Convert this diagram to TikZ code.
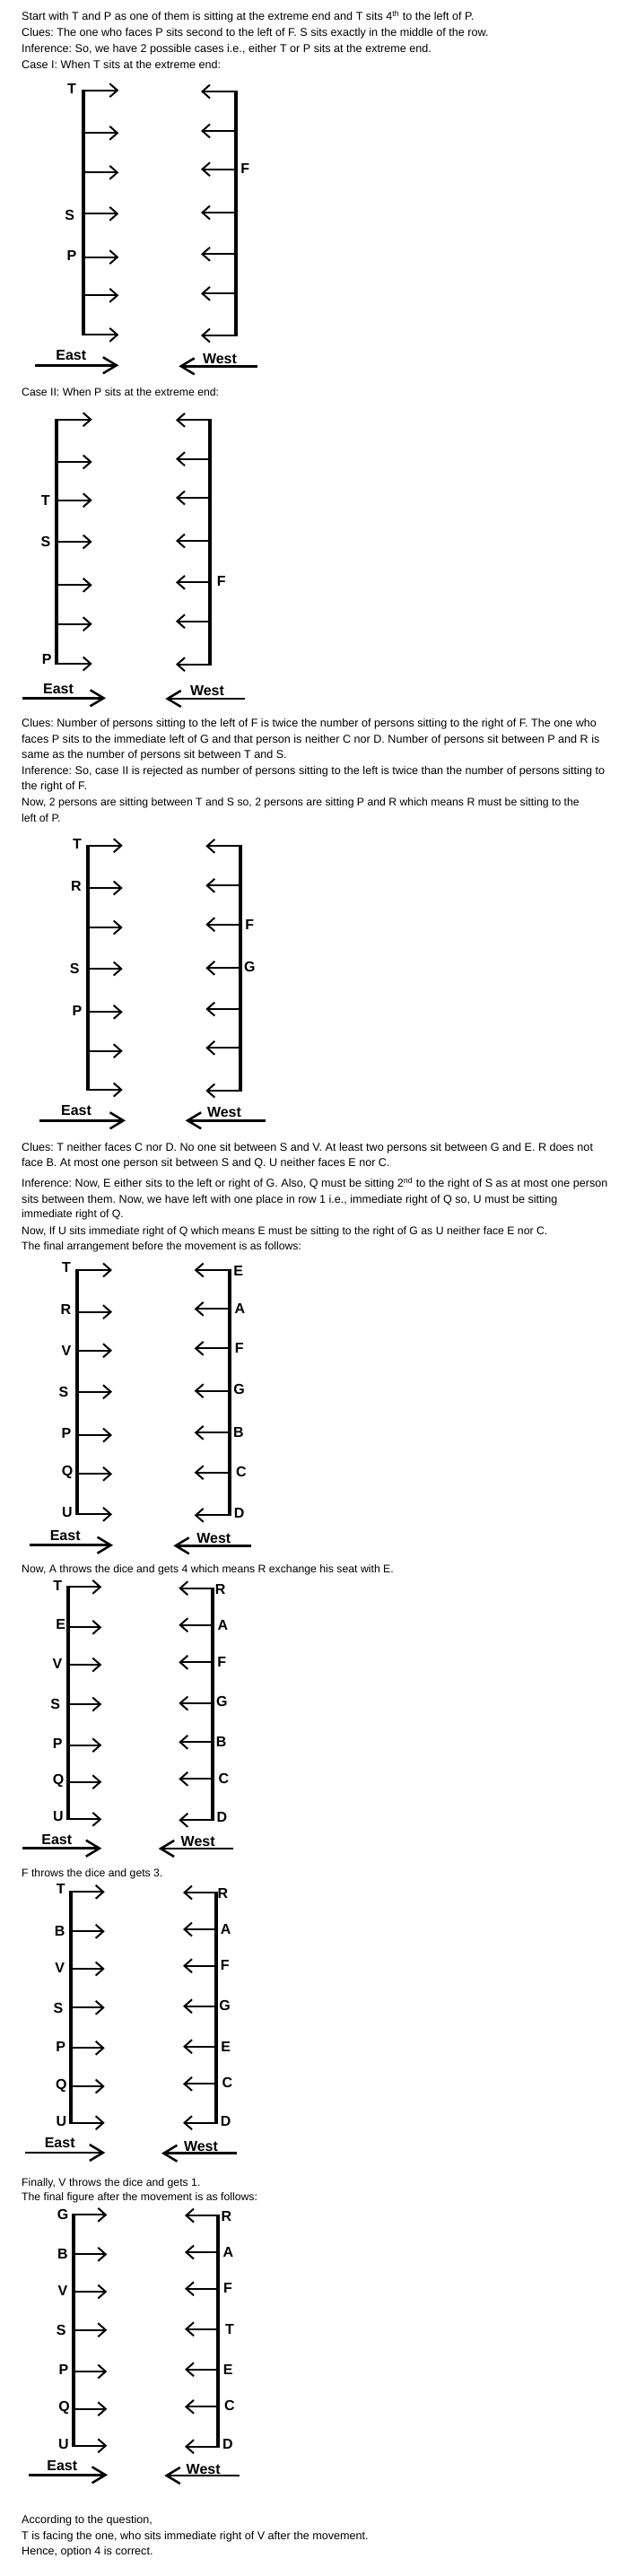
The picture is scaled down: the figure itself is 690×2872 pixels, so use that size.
\documentclass[tikz,border=0pt]{standalone}
\usepackage{fontspec}
\setmainfont{Liberation Sans}
\usetikzlibrary{arrows.meta}
\newcommand\txtA{\fontsize{12.6pt}{15pt}\selectfont\frenchspacing}
\newcommand\txtB{\fontsize{12.25pt}{15pt}\selectfont\frenchspacing}
\newcommand\lblfont{\fontsize{16pt}{18pt}\selectfont\bfseries}
\tikzset{
  seatstem/.style={line width=2pt, -{Straight Barb[length=8.5pt,width=15pt]}},
  seatbar/.style={line width=4.3pt, shorten <=-1pt, shorten >=-1pt},
  lbl/.style={font=\lblfont, inner sep=0pt},
  dirarr/.style={line width=2.5pt, -{Straight Barb[length=15pt,width=18pt]}},
  txta/.style={anchor=base west, inner sep=0pt, font=\txtA},
  txtb/.style={anchor=base west, inner sep=0pt, font=\txtB},
}
% one side of a row of seats: prefix, bar x, tip x, list of y
\newcommand\seatside[4]{%
  \foreach \yy [count=\i] in {#4} {
    \coordinate (#1b\i) at (#2,\yy);
    \coordinate (#1t\i) at (#3,\yy);
    \draw[seatstem] (#1b\i) -- (#1t\i);
  }
  \draw[seatbar] (#1b1) -- (#1b7);
}
\newcommand\seatlabels[2]{%
  \foreach \lx/\ly/\lab [count=\i] in {#2} {
    \node[lbl] (#1\i) at (\lx,\ly) {\lab};
  }
}
\newcommand\eastdir[6]{%
  \node[lbl] (#1en) at (#2,#3) {East};
  \coordinate (#1ea) at (#4,#6);
  \coordinate (#1eb) at (#5,#6);
  \draw[dirarr] (#1ea) -- (#1eb);
}
\newcommand\westdir[6]{%
  \node[lbl] (#1wn) at (#2,#3) {West};
  \coordinate (#1wa) at (#4,#6);
  \coordinate (#1wb) at (#5,#6);
  \draw[dirarr] (#1wa) -- (#1wb);
}
\begin{document}
\begin{tikzpicture}[x=1pt,y=-1pt]
\fill[white] (0,0) rectangle (690,2872);
\useasboundingbox (0,0) rectangle (690,2872);

% ---------- texts ----------
\node[txta] (t1) at (24,22.7) {Start with T and P as one of them is sitting at the extreme end and T sits 4\textsuperscript{th} to the left of P.};
\node[txta] (t2) at (24,40.4) {Clues: The one who faces P sits second to the left of F. S sits exactly in the middle of the row.};
\node[txta] (t3) at (24,58.4) {Inference: So, we have 2 possible cases i.e., either T or P sits at the extreme end.};
\node[txta] (t4) at (24,76.4) {Case I: When T sits at the extreme end:};
\node[txtb] (t5) at (24,441.7) {Case II: When P sits at the extreme end:};
\node[txta] (t6) at (24,810.4) {Clues: Number of persons sitting to the left of F is twice the number of persons sitting to the right of F. The one who};
\node[txta] (t7) at (24,828.4) {faces P sits to the immediate left of G and that person is neither C nor D. Number of persons sit between P and R is};
\node[txta] (t8) at (24,845.4) {same as the number of persons sit between T and S.};
\node[txta] (t9) at (24,863.4) {Inference: So, case II is rejected as number of persons sitting to the left is twice than the number of persons sitting to};
\node[txta] (t10) at (24,880.4) {the right of F.};
\node[txtb] (t11) at (24,898.4) {Now, 2 persons are sitting between T and S so, 2 persons are sitting P and R which means R must be sitting to the};
\node[txtb] (t12) at (24,916.1) {left of P.};
\node[txta] (t13) at (24,1283.4) {Clues: T neither faces C nor D. No one sit between S and V. At least two persons sit between G and E. R does not};
\node[txta] (t14) at (24,1300.1) {face B. At most one person sit between S and Q. U neither faces E nor C.};
\node[txta] (t15) at (24,1323.4) {Inference: Now, E either sits to the left or right of G. Also, Q must be sitting 2\textsuperscript{nd} to the right of S as at most one person};
\node[txta] (t16) at (24,1341.1) {sits between them. Now, we have left with one place in row 1 i.e., immediate right of Q so, U must be sitting};
\node[txtb] (t17) at (24,1357.7) {immediate right of Q.};
\node[txtb] (t18) at (24,1376.1) {Now, If U sits immediate right of Q which means E must be sitting to the right of G as U neither face E nor C.};
\node[txtb] (t19) at (24,1393.4) {The final arrangement before the movement is as follows:};
\node[txtb] (t20) at (24,1753.7) {Now, A throws the dice and gets 4 which means R exchange his seat with E.};
\node[txtb] (t21) at (24,2092.7) {F throws the dice and gets 3.};
\node[txtb] (t22) at (24,2437.1) {Finally, V throws the dice and gets 1.};
\node[txtb] (t23) at (24,2453.7) {The final figure after the movement is as follows:};
\node[txta] (t24) at (24,2813.4) {According to the question,};
\node[txta] (t25) at (24,2831.1) {T is facing the one, who sits immediate right of V after the movement.};
\node[txta] (t26) at (24,2848.7) {Hence, option 4 is correct.};

% ---------- diagram 1 ----------
\seatside{aL}{92.7}{132.3}{100.7,148.3,192.3,238.3,286.7,329.3,373.3}
\seatside{aR}{262.7}{224}{102,146,188.7,237,283.3,327.3,374}
\seatlabels{aLl}{80/99.3/T, 77.7/240/S, 80/285/P}
\seatlabels{aRl}{273.3/188.3/F}
\eastdir{a}{79.3}{396}{39.3}{132.3}{407.3}
\westdir{a}{245}{400}{286.7}{199.3}{408.3}

% ---------- diagram 2 ----------
\seatside{bL}{63.3}{102.7}{467.7,515,557.7,604,652.3,695.7,740}
\seatside{bR}{234.3}{196}{468.3,511.7,555,603,649.3,692.7,740.7}
\seatlabels{bLl}{50.7/557.7/T, 51/604/S, 52.3/735/P}
\seatlabels{bRl}{246.7/648.3/F}
\eastdir{b}{65}{767.7}{25}{118}{778.3}
\westdir{b}{231}{770}{272.7}{184.3}{779}

% ---------- diagram 3 ----------
\seatside{cL}{98}{136.7}{942.7,990,1034,1080,1128.3,1171.7,1215}
\seatside{cR}{267.7}{229.3}{943.3,987.3,1030.7,1079.3,1125,1168.3,1216}
\seatlabels{cLl}{86/941/T, 85/988.3/R, 83.3/1080/S, 86/1126.7/P}
\seatlabels{cRl}{278.3/1030.7/F, 278.3/1077.7/G}
\eastdir{c}{85}{1238.3}{44.4}{140}{1249.3}
\westdir{c}{250}{1240}{295.6}{206.7}{1249.3}

% ---------- diagram 4 ----------
\seatside{dL}{86}{125}{1416,1462.7,1505.7,1551.7,1600,1643.3,1688.3}
\seatside{dR}{256}{216.7}{1416,1459.3,1503.3,1550.7,1597.3,1641.7,1689.3}
\seatlabels{dLl}{74/1412.7/T, 73.3/1460/R, 74/1505.7/V, 71/1552.3/S, 74/1598.3/P, 75/1641.7/Q, 75/1685.7/U}
\seatlabels{dRl}{265.7/1417.3/E, 267.3/1459.3/A, 266.7/1502.7/F, 266.7/1549.3/G, 266/1596.7/B, 269/1640.7/C, 266.7/1686.7/D}
\eastdir{d}{72.7}{1711.7}{33.3}{126}{1722.7}
\westdir{d}{238.3}{1715}{280}{193.3}{1723.3}

% ---------- diagram 5 ----------
\seatside{eL}{76}{113.3}{1769.3,1814.3,1856,1900,1945.7,1986.7,2028.3}
\seatside{eR}{237.3}{199.3}{1770.7,1811.7,1853.3,1899,1942.3,1983.3,2029.3}
\seatlabels{eLl}{64.3/1767.7/T, 67.7/1810.7/E, 64/1855/V, 61.7/1900/S, 64.3/1944/P, 65/1985/Q, 65/2025/U}
\seatlabels{eRl}{245.7/1771.7/R, 248.3/1811.7/A, 247.3/1852.7/F, 247.3/1896.7/G, 246.7/1941.7/B, 249.3/1983.3/C, 247.3/2026/D}
\eastdir{e}{63.3}{2050.7}{25}{113.3}{2060.7}
\westdir{e}{220.7}{2053.3}{260}{176.7}{2061}

% ---------- diagram 6 ----------
\seatside{fL}{79.3}{116.7}{2109.3,2153.3,2195,2238.3,2283.3,2326,2366.7}
\seatside{fR}{240.7}{204}{2110,2151,2191.7,2236.7,2281.7,2323.3,2366.7}
\seatlabels{fLl}{67.7/2106/T, 66.7/2153.3/B, 66.7/2194.3/V, 65/2239.3/S, 67.7/2282.3/P, 68.3/2325/Q, 68.3/2365/U}
\seatlabels{fRl}{248.3/2110.7/R, 251.7/2150.7/A, 250.7/2191/F, 250.7/2236/G, 251.7/2281.7/E, 253.3/2321.7/C, 251.7/2365/D}
\eastdir{f}{66.7}{2389.3}{28.3}{117.3}{2400}
\westdir{f}{224}{2392.7}{264}{180}{2400.7}

% ---------- diagram 7 ----------
\seatside{gL}{81.7}{119.3}{2469.3,2513.3,2555,2597.7,2644,2685.7,2726.7}
\seatside{gR}{243.3}{206}{2470,2511,2551.7,2596.7,2641.7,2683.3,2727.7}
\seatlabels{gLl}{70/2469.3/G, 70/2512.7/B, 70/2554.3/V, 68.3/2598.3/S, 71/2642.3/P, 71.7/2684/Q, 71/2725/U}
\seatlabels{gRl}{252.3/2471/R, 254.3/2510.7/A, 254/2551/F, 256/2596.7/T, 254.3/2641.7/E, 256/2681.7/C, 254/2725/D}
\eastdir{g}{69.3}{2749.3}{31.7}{120}{2759.3}
\westdir{g}{226.7}{2752.7}{266.7}{183.3}{2760}
\end{tikzpicture}
\end{document}
